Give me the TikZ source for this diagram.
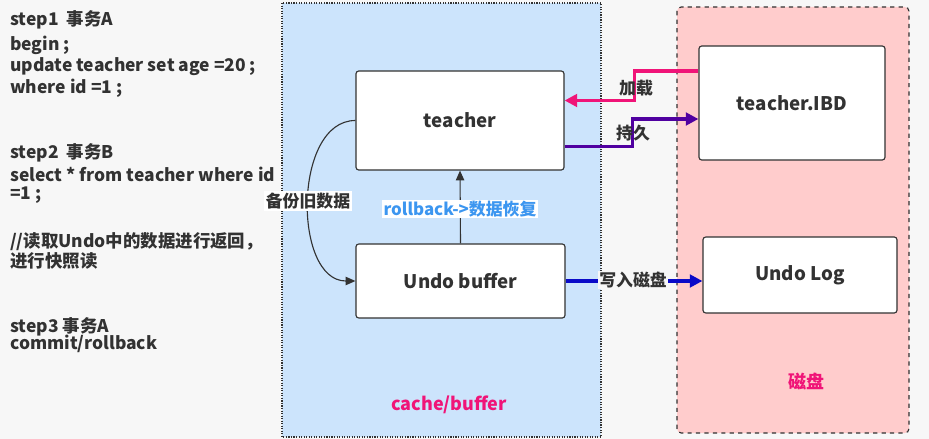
\documentclass[tikz,border=0pt]{standalone}
\usepackage{fontspec}
\setmainfont{Noto Sans CJK SC}
\usetikzlibrary{arrows.meta,positioning}
\definecolor{txtgray}{RGB}{50,50,50}
\definecolor{cacheblue}{RGB}{204,228,252}
\definecolor{diskpink}{RGB}{255,204,204}
\definecolor{loadpink}{RGB}{240,20,120}
\definecolor{savepurple}{RGB}{80,0,160}
\definecolor{writeblue}{RGB}{10,10,200}
\definecolor{rbblue}{RGB}{60,150,240}
\tikzset{
  box/.style={draw=txtgray, thick, fill=white, rounded corners=2pt, font=\bfseries\fontsize{13.3}{15}\selectfont, text=txtgray},
  codeline/.style={anchor=west, font=\bfseries\fontsize{12.4}{14}\selectfont, text=txtgray, inner sep=0pt},
  lbl/.style={font=\bfseries\fontsize{12}{14}\selectfont, text=txtgray, inner sep=1pt},
  flow/.style={line width=2.2pt, -{Triangle[length=9pt,width=9pt]}},
}
\begin{document}
\begin{tikzpicture}[x=0.025cm, y=-0.025cm]
    \useasboundingbox[fill=gray!6] (0,0) rectangle (929,439);

    % 左侧：事务步骤
    \node[codeline] (s1) at (10,20) {step1\ \ 事务A};
    \node[codeline] (s1a) at (10,45) {begin ;};
    \node[codeline] (s1b) at (10,67) {update teacher set age =20 ;};
    \node[codeline] (s1c) at (10,88) {where id =1 ;};
    \node[codeline] (s2) at (10,153) {step2\ \ 事务B};
    \node[codeline] (s2a) at (10,174) {select * from teacher where id};
    \node[codeline] (s2b) at (10,195) {=1 ;};
    \node[codeline] (n1) at (10,242) {//读取Undo中的数据进行返回，};
    \node[codeline] (n2) at (10,261) {进行快照读};
    \node[codeline] (s3) at (10,327) {step3 事务A};
    \node[codeline] (s3a) at (10,344) {commit/rollback};

    % 内存区 cache/buffer
    \draw[densely dotted, thick, draw=txtgray, fill=cacheblue] (282,3) rectangle (601,437);
    \node[font=\bfseries\fontsize{12.8}{14}\selectfont, text=loadpink] (cache) at (449,405) {cache/buffer};

    % 磁盘区
    \draw[dashed, thick, draw=txtgray, fill=diskpink, rounded corners=3pt] (677,7) rectangle (909,433);
    \node[font=\bfseries\fontsize{12.8}{14}\selectfont, text=loadpink] (disk) at (806,381) {磁盘};

    % 四个框
    \node[box, minimum width=5.2cm, minimum height=2.475cm] (teacher) at (460,120.5) {teacher};
    \node[box, minimum width=5.225cm, minimum height=1.85cm] (undo) at (460.5,281) {Undo buffer};
    \node[box, minimum width=4.65cm, minimum height=2.85cm] (ibd) at (792,103) {teacher.IBD};
    \node[box, minimum width=4.85cm, minimum height=1.9cm] (log) at (800,275) {Undo Log};

    % 加载 / 持久
    \draw[flow, loadpink] ([yshift=0.8cm]ibd.west) -- ++(-64,0) |- ([yshift=0.5cm]teacher.east);
    \node[lbl] (load) at (636,88) {加载};
    \draw[flow, savepurple] ([yshift=-0.65cm]teacher.east) -- ++(68,0) |- ([yshift=-0.4cm]ibd.west);
    \node[lbl] (save) at (633,133) {持久};

    % 写入磁盘
    \draw[flow, writeblue] (undo.east) -- (undo.east -| log.west);
    \node[lbl, fill=gray!6] (write) at (633,280) {写入磁盘};

    % 备份旧数据
    \draw[thick, txtgray, -{Triangle[length=7pt,width=6pt]}] (teacher.west) to[out=180, in=180] (undo.west);
    \node[lbl, fill=white] (backup) at (308,201) {备份旧数据};

    % rollback
    \draw[thick, txtgray, -{Triangle[length=7pt,width=6pt]}] (undo.north) -- (teacher.south);
    \node[lbl, fill=white, text=rbblue] (rb) at (460,209) {rollback->数据恢复};
\end{tikzpicture}
\end{document}
